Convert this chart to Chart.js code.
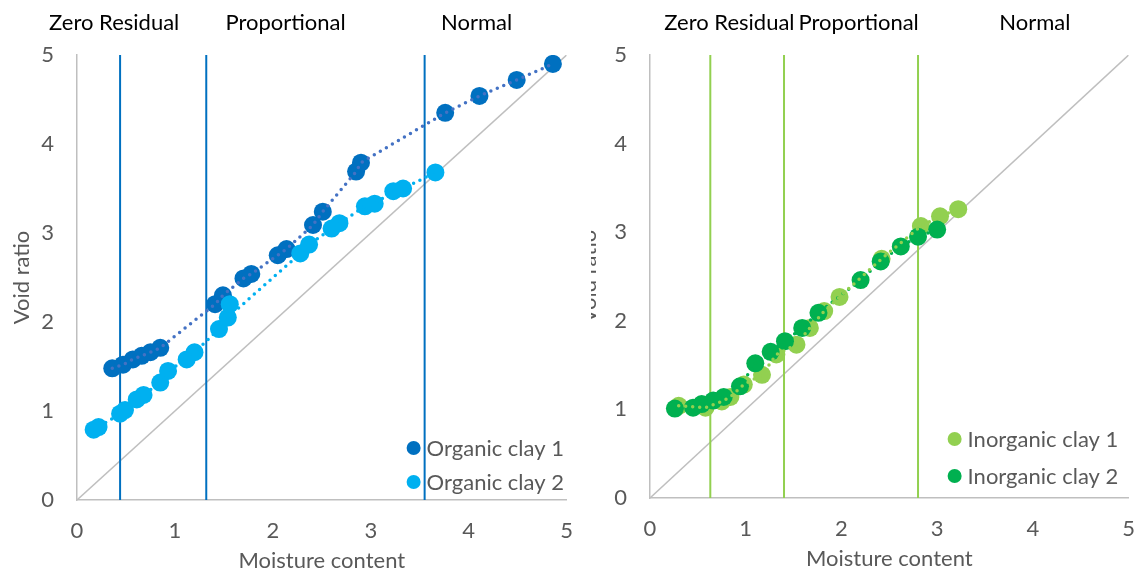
<!DOCTYPE html>
<html>
<head>
<meta charset="utf-8">
<script src="https://cdn.jsdelivr.net/npm/chart.js@4.4.1/dist/chart.umd.min.js"></script>
<style>
  body { margin: 0; background: #fff; }
  #wrap { position: relative; width: 1139px; height: 574px; overflow: hidden; }
  .pane { position: absolute; top: 0; height: 574px; background: #fff; }
  #leftPane { left: 0; width: 591px; z-index: 2; }
  #rightPane { left: 575px; width: 578px; z-index: 1; }
</style>
</head>
<body>
<div id="wrap">
  <div class="pane" id="leftPane"><canvas id="organic" width="591" height="574"></canvas></div>
  <div class="pane" id="rightPane"><canvas id="inorganic" width="578" height="574"></canvas></div>
</div>
<script>
// ---- data ----
const axisMin = 0;
const axisMax = 5;
const regionNames = ['Zero Residual', 'Proportional', 'Normal'];

// organic clays (left panel)
const organicLabels = ['Organic clay 1', 'Organic clay 2'];
const organicColors = ['#0070c0', '#00b0f0'];
const organicLineColors = ['#4472c4', '#00b0f0'];
const organicBounds = [0.44, 1.32, 3.55];
const organicRegionX = [0.38, 2.13, 4.08];
const organic1 = [
  [0.36, 1.48], [0.47, 1.52], [0.57, 1.58], [0.66, 1.62], [0.75, 1.66], [0.85, 1.71],
  [1.41, 2.20], [1.49, 2.30], [1.70, 2.49], [1.78, 2.54], [2.05, 2.75], [2.14, 2.82],
  [2.41, 3.09], [2.51, 3.24], [2.85, 3.69], [2.90, 3.79], [3.76, 4.35], [4.11, 4.54],
  [4.49, 4.72], [4.86, 4.90]
];
const organic2 = [
  [0.17, 0.79], [0.22, 0.82], [0.44, 0.97], [0.49, 1.01], [0.61, 1.13], [0.68, 1.18],
  [0.85, 1.32], [0.93, 1.45], [1.12, 1.58], [1.20, 1.66], [1.45, 1.92], [1.56, 2.20],
  [1.54, 2.05], [2.28, 2.77], [2.37, 2.87], [2.60, 3.05], [2.68, 3.11], [2.94, 3.30],
  [3.04, 3.33], [3.23, 3.47], [3.33, 3.50], [3.66, 3.68]
];

// inorganic clays (right panel)
const inorganicLabels = ['Inorganic clay 1', 'Inorganic clay 2'];
const inorganicColors = ['#92d050', '#00b050'];
const inorganicBounds = [0.63, 1.40, 2.80];
const inorganicRegionX = [0.83, 2.18, 4.02];
const inorganic1 = [
  [0.30, 1.04], [0.58, 1.02], [0.75, 1.09], [0.84, 1.14], [0.98, 1.28], [1.17, 1.39],
  [1.32, 1.62], [1.53, 1.73], [1.67, 1.92], [1.82, 2.11], [1.98, 2.27], [2.42, 2.70],
  [2.83, 3.07], [3.03, 3.18], [3.22, 3.26]
];
const inorganic2 = [
  [0.26, 1.01], [0.45, 1.02], [0.54, 1.06], [0.66, 1.10], [0.77, 1.14], [0.94, 1.26],
  [1.10, 1.52], [1.26, 1.65], [1.41, 1.77], [1.59, 1.92], [1.76, 2.09], [2.20, 2.46],
  [2.41, 2.67], [2.62, 2.84], [2.80, 2.95], [3.00, 3.03]
];

const FONT = 'Lato, "Open Sans", sans-serif';
const GREY = '#595959';
const AXIS = '#bfbfbf';
const FS = 22;

const toXY = arr => arr.map(p => ({ x: p[0], y: p[1] }));

// region names across the top
const regionPlugin = {
  id: 'regions',
  afterDraw(chart, args, opts) {
    const ctx = chart.ctx;
    const xs = chart.scales.x;
    ctx.save();
    ctx.font = FS + 'px ' + FONT;
    ctx.fillStyle = '#000';
    ctx.textAlign = 'center';
    ctx.textBaseline = 'middle';
    opts.names.forEach((n, i) => ctx.fillText(n, xs.getPixelForValue(opts.at[i]), opts.y));
    ctx.restore();
  }
};

// legend inside the plot, bottom right
const boxLegend = {
  id: 'boxLegend',
  afterDraw(chart, args, opts) {
    const ctx = chart.ctx;
    const area = chart.chartArea;
    ctx.save();
    ctx.font = FS + 'px ' + FONT;
    ctx.textBaseline = 'middle';
    opts.labels.forEach((lab, i) => {
      const x = area.right - opts.right;
      const y = area.bottom - opts.bottom - (opts.labels.length - 1 - i) * opts.gap;
      ctx.fillStyle = opts.colors[i];
      ctx.beginPath();
      ctx.arc(x, y, 7, 0, Math.PI * 2);
      ctx.fill();
      ctx.fillStyle = GREY;
      ctx.fillText(lab, x + 13, y + 1);
    });
    ctx.restore();
  }
};

function makeChart(id, cfg) {
  const datasets = [];
  datasets.push({
    data: [{ x: axisMin, y: axisMin }, { x: axisMax, y: axisMax }],
    showLine: true, borderColor: AXIS, borderWidth: 1.5, pointRadius: 0, order: 10
  });
  cfg.bounds.forEach(b => datasets.push({
    data: [{ x: b, y: axisMin }, { x: b, y: axisMax }],
    showLine: true, borderColor: cfg.boundColor, borderWidth: 2, pointRadius: 0, order: 9
  }));
  cfg.series.forEach((s, i) => {
    datasets.push({
      label: cfg.labels[i], data: toXY(s), backgroundColor: cfg.colors[i],
      pointRadius: 9, pointHoverRadius: 9, borderWidth: 0, order: 6 - i
    });
  });
  cfg.series.forEach((s, i) => {
    datasets.push({
      data: toXY(s), showLine: true, borderColor: cfg.lineColors[i], borderWidth: 3.5,
      borderDash: [0, 7], borderCapStyle: 'round', pointRadius: 0, order: cfg.lineOrder[i]
    });
  });

  return new Chart(document.getElementById(id), {
    type: 'scatter',
    data: { datasets },
    plugins: [regionPlugin, boxLegend],
    options: {
      responsive: false,
      devicePixelRatio: 1,
      animation: false,
      layout: { padding: { top: 55, right: cfg.padRight, left: 0, bottom: 0 } },
      plugins: {
        legend: { display: false },
        tooltip: { enabled: false },
        regions: { names: regionNames, at: cfg.regionX, y: 23 },
        boxLegend: { labels: cfg.labels, colors: cfg.colors, right: cfg.legRight, bottom: cfg.legBottom, gap: cfg.legGap }
      },
      scales: {
        x: {
          type: 'linear', min: axisMin, max: axisMax,
          afterFit: s => { s.height = cfg.xHeight; },
          grid: { display: false, drawTicks: false },
          border: { display: true, color: AXIS, width: 1.5 },
          ticks: { stepSize: 1, color: GREY, padding: 18, font: { family: FONT, size: FS } },
          title: { display: true, text: 'Moisture content', color: GREY, padding: { top: 0, bottom: cfg.xTitlePad }, font: { family: FONT, size: FS } }
        },
        y: {
          type: 'linear', min: axisMin, max: axisMax,
          afterFit: s => { s.width = cfg.yWidth; },
          grid: { display: false, drawTicks: false },
          border: { display: true, color: AXIS, width: 1.5 },
          ticks: { stepSize: 1, color: GREY, padding: 23, font: { family: FONT, size: FS } },
          title: { display: true, text: 'Void ratio', color: GREY, padding: { top: cfg.yTitlePad, bottom: 0 }, font: { family: FONT, size: FS } }
        }
      }
    }
  });
}

makeChart('organic', {
  series: [organic1, organic2], labels: organicLabels, colors: organicColors,
  lineColors: organicLineColors, lineOrder: [1, 2], bounds: organicBounds, boundColor: '#0070c0',
  regionX: organicRegionX, padRight: 0, yWidth: 77, xHeight: 74, xTitlePad: 0, yTitlePad: 9,
  legRight: 153, legBottom: 18, legGap: 34
});

makeChart('inorganic', {
  series: [inorganic1, inorganic2], labels: inorganicLabels, colors: inorganicColors,
  lineColors: inorganicColors, lineOrder: [1, 2], bounds: inorganicBounds, boundColor: '#92d050',
  regionX: inorganicRegionX, padRight: 0, yWidth: 75, xHeight: 76, xTitlePad: 2, yTitlePad: 1,
  legRight: 174, legBottom: 22, legGap: 37
});
</script>
</body>
</html>
